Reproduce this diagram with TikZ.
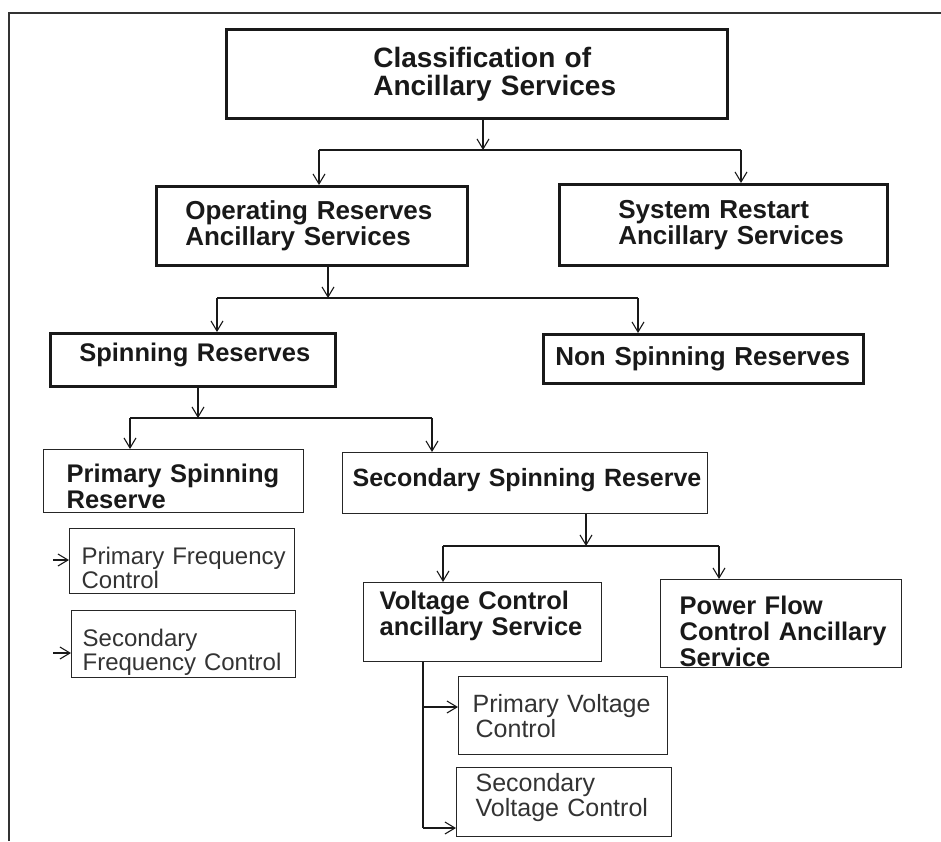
\documentclass[tikz,border=0pt]{standalone}
\usepackage{fontspec}
\setmainfont{Liberation Sans}
\usetikzlibrary{arrows.meta}
\hyphenpenalty=10000
\exhyphenpenalty=10000
\lefthyphenmin=64

\begin{document}
\begin{tikzpicture}[x=1pt, y=-1pt,
    box/.style={anchor=north west, inner ysep=0pt, align=left, text=black!90},
    heavy/.style={box, draw=black!90, line width=2.6pt},
    light/.style={box, draw=black!85, line width=1.3pt},
    boldtext/.style={font=\bfseries\fontsize{#1}{#1}\selectfont},
    plaintext/.style={font=\fontsize{#1}{#1}\selectfont, text=black!80},
    link/.style={line width=1.1pt, black!90},
    arr/.style={link, -{Straight Barb[length=10pt,width=12pt]}}]
  \useasboundingbox (0,0) rectangle (941,841);
  % --------------------------
  % the frame round the figure
  % --------------------------
  \draw[black!80, line width=2pt] (9,841) -- (9,13) -- (941,13);
  % ---------------------------------
  % the boxes, level by level
  % ---------------------------------
  \node[heavy, boldtext=28, minimum height=89pt, inner xsep=147pt, text width=207pt] (cls) at (225,28) {Classification~of\\Ancillary~Services};
  \node[heavy, boldtext=26, minimum height=79pt, inner xsep=29pt, text width=253pt] (op) at (155,185) {Operating~Reserves\\Ancillary~Services};
  \node[heavy, boldtext=26, minimum height=81pt, inner xsep=59pt, text width=210pt] (sr) at (558,183) {System~Restart\\Ancillary~Services};
  \node[heavy, boldtext=25.5, minimum height=53pt, inner xsep=29pt, text width=227pt] (sp) at (49,332) {Spinning~Reserves\par\vspace*{9pt}};
  \node[heavy, boldtext=26, minimum height=49pt, inner xsep=12pt, text width=296pt] (ns) at (542,333) {Non~Spinning~Reserves};
  \node[light, boldtext=25.5, minimum height=63pt, inner xsep=23pt, text width=214pt] (ps) at (43,449) {\rule{0pt}{29pt}Primary~Spinning\\Reserve};
  \node[light, boldtext=25, minimum height=61pt, inner xsep=10pt, text width=345pt] (ss) at (342,452) {Secondary~Spinning~Reserve\par\vspace*{6pt}};
  \node[light, plaintext=24, minimum height=65pt, inner xsep=12pt, text width=201pt] (pf) at (69,528) {\rule{0pt}{31pt}Primary~Frequency\\Control};
  \node[light, plaintext=24, minimum height=67pt, inner xsep=11pt, text width=202pt] (sf) at (71,610) {\rule{0pt}{34pt}Secondary\\Frequency~Control};
  \node[light, boldtext=25.5, minimum height=79pt, inner xsep=16pt, text width=206pt] (vc) at (363,582) {Voltage~Control\\ancillary~Service\par\vspace*{13pt}};
  \node[light, boldtext=25.5, minimum height=88pt, inner xsep=19pt, text width=203pt] (pw) at (660,579) {\rule{0pt}{33pt}Power~Flow\\[1pt]Control~Ancillary\\Service};
  \node[light, plaintext=25, minimum height=78pt, inner xsep=14pt, text width=181pt] (pv) at (458,676) {Primary~Voltage\\\hspace*{3pt}Control};
  \node[light, plaintext=25, minimum height=69pt, inner xsep=19pt, text width=177pt] (sv) at (456,767) {Secondary\\Voltage~Control\par\vspace*{10pt}};
  % ----------------------------------------------
  % stem, bar and two child arrows for each split
  % ----------------------------------------------
  \foreach \up/\xm/\xa/\xb/\yb/\kida/\kidb in {cls/483/319/741/150/op/sr,
      op/328/217/638/298/sp/ns, sp/198/130/432/418/ps/ss, ss/586/443/719/546/vc/pw}{
    \coordinate (m) at (\xm,\yb);
    \coordinate (a) at (\xa,\yb);
    \coordinate (b) at (\xb,\yb);
    \draw[arr] (m |- \up.south) -- (m);
    \draw[link] (a) -- (b);
    \draw[arr] (a) -- (a |- \kida.north);
    \draw[arr] (b) -- (b |- \kidb.north);
  }
  % the voltage control trunk
  \coordinate (t1) at (423,707);
  \coordinate (t2) at (423,828);
  \draw[link, line width=1.8pt] (vc.south -| t2) -- (t2);
  \draw[arr] (t1) -- (t1 -| pv.west);
  \draw[arr] (t2) -- (t2 -| sv.west);
  % the two loose frequency arrows
  \coordinate (f1) at (53,560);
  \coordinate (f2) at (53,653);
  \draw[arr] (f1) -- (f1 -| pf.west);
  \draw[arr] (f2) -- (f2 -| sf.west);
\end{tikzpicture}
\end{document}
